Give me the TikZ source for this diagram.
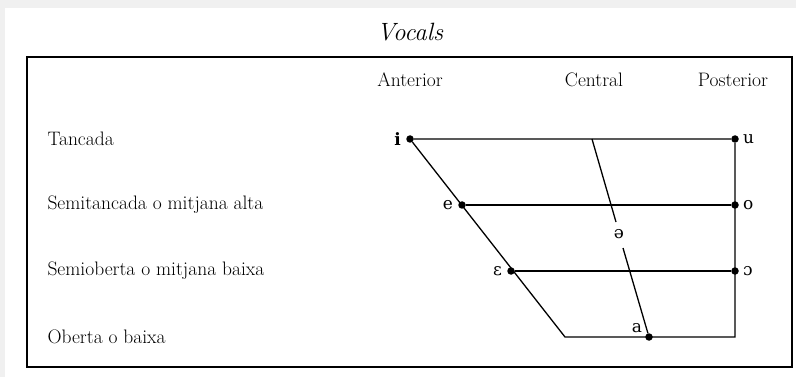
\documentclass[tikz,border=0pt]{standalone}
\usepackage{fontspec}
\newfontfamily\ipafont{DejaVu Serif}
\usetikzlibrary{positioning}
\tikzset{
  vdot/.style={circle, fill, inner sep=0pt, minimum size=7.5pt},
  vowel/.style={font=\ipafont\fontsize{17}{20}\selectfont, inner sep=1pt},
  rowlabel/.style={anchor=west, font=\fontsize{19.5}{23}\selectfont},
  collabel/.style={font=\fontsize{19.5}{23}\selectfont},
  chart/.style={line width=1.3pt}
}
\begin{document}
\begin{tikzpicture}[x=1pt,y=-1pt]
        \fill [black!6] (0,0) rectangle (796,377);
        \fill [white] (5,8) rectangle (796,377);
        \draw [line width=2pt] (27,57) rectangle (792,367);
        \node (title) at (410,32) {\fontsize{25}{30}\selectfont\itshape Vocals};
        % columnes
        \node [collabel] (ant) at (410,80) {Anterior};
        \node [collabel] (cen) at (594,80) {Central};
        \node [collabel] (pos) at (733,80) {Posterior};
        % files
        \node [rowlabel] (tanc) at (44,139) {Tancada};
        \node [rowlabel] (semt) at (44,205) {Semitancada o mitjana alta};
        \node [rowlabel] (semo) at (44,271) {Semioberta o mitjana baixa};
        \node [rowlabel] (obe) at (44,337) {Oberta o baixa};
        % vocals
        \node [vdot] (i) at (410,139) {};
        \node [vdot] (u) at (735,139) {};
        \node [vdot] (e) at (462,205) {};
        \node [vdot] (o) at (735,205) {};
        \node [vdot] (eps) at (511,271) {};
        \node [vdot] (oo) at (735,271) {};
        \node [vdot] (a) at (649,337) {};
        \coordinate (bl) at (565,337);
        \coordinate (br) at (735,337);
        \coordinate (ctop) at (592,139);
        \coordinate (cgap) at (616,222);
        \coordinate (cres) at (623,248);
        \node [vowel, left=4pt of i, font=\ipafont\bfseries\fontsize{17}{20}\selectfont] {i};
        \node [vowel, right=3pt of u] {u};
        \node [vowel, left=4pt of e] {e};
        \node [vowel, right=3pt of o] {o};
        \node [vowel, left=4pt of eps] {ɛ};
        \node [vowel, right=3pt of oo] {ɔ};
        \node [vowel, above left=0pt and 3pt of a] {a};
        \node [vowel] (schwa) at (619,234) {ə};
        % trapezi
        \draw [chart] (i) -- (u) -- (br) -- (bl) -- (i);
        \draw [chart] (e) -- (o);
        \draw [chart] (eps) -- (oo);
        \draw [chart] (ctop) -- (cgap);
        \draw [chart] (cres) -- (a);
\end{tikzpicture}
\end{document}
